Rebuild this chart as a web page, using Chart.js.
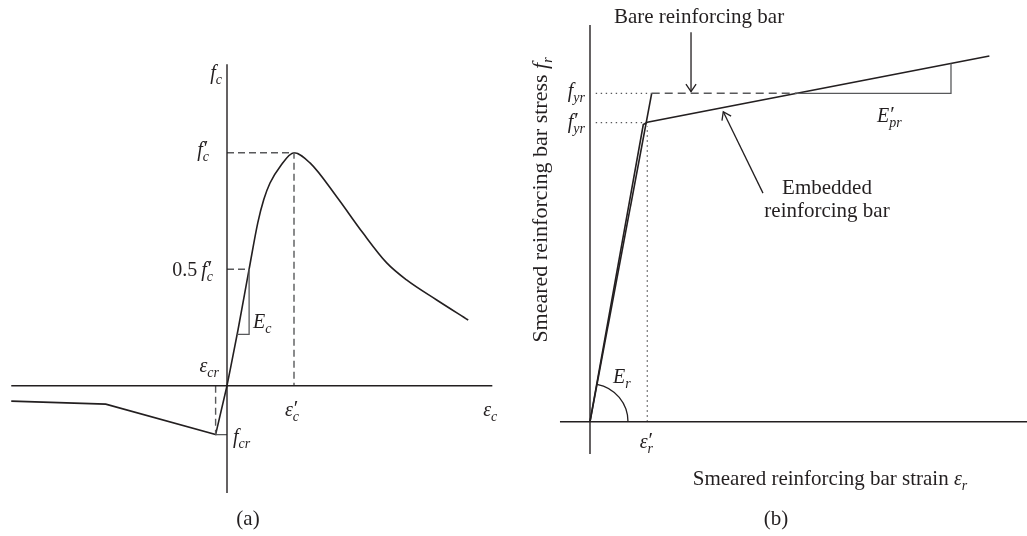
<!DOCTYPE html>
<html>
<head>
<meta charset="utf-8">
<script src="https://cdn.jsdelivr.net/npm/chart.js@4.4.1/dist/chart.umd.min.js"></script>
<style>
  body { margin: 0; background: #fff; }
  #wrap { position: relative; width: 1027px; height: 536px; }
  canvas { position: absolute; top: 0; }
  #chartA { left: 0; }
  #chartB { left: 520px; }
</style>
</head>
<body>
<div id="wrap">
  <canvas id="chartA" width="520" height="536"></canvas>
  <canvas id="chartB" width="507" height="536"></canvas>
</div>
<script>
// (a) concrete: strain in units of eps'_c, stress in units of f'_c
const tensionStrain = [-3.22, -1.81, -0.17, 0];
const tensionStress = [-0.066, -0.079, -0.21, 0];
const compStrain = [0, 0.164, 0.33, 0.46, 0.55, 0.642, 0.791, 1, 1.239, 1.637, 2.03, 2.384, 2.68, 3.13, 3.6];
const compStress = [0, 0.239, 0.5, 0.70, 0.80, 0.870, 0.940, 1, 0.956, 0.811, 0.655, 0.527, 0.454, 0.368, 0.282];
const peakStrain = 1, peakStress = 1;
const halfStrain = 0.33, halfStress = 0.5;
const crackStrain = -0.17, crackStress = -0.21;
const ecBaseStress = 0.22;
const axisAx = [-3.22, 3.96], axisAy = [-0.46, 1.38];

// (b) steel: strain in units of eps'_r, stress in units of f_yr
const bareStrain = [0, 1.077, 6.30];
const bareStress = [0, 1, 1];
const embStrain = [0, 0.93, 1.0, 6.97];
const embStress = [0, 0.905, 0.912, 1.1136];
const fyr = 1, fyrEmb = 0.911, epsYield = 1;
const slopeStrain = 6.30;
const bareArrowX = [1.763, 1.763], bareArrowY = [1.186, 1.005];
const embArrowX = [3.019, 2.326], embArrowY = [0.696, 0.944];
const axisBx = [-0.524, 7.8], axisBy = [-0.098, 1.208];

const ink = '#231f20';
const grey = '#58595b';
const SERIF = '"Liberation Serif", "DejaVu Serif", serif';
const F = {
  text: '21px ' + SERIF,
  label: '22px ' + SERIF,
  it: 'italic 20px ' + SERIF,
  itBig: 'italic 22px ' + SERIF,
  sub: 'italic 14px ' + SERIF,
  up: '20px ' + SERIF,
  prime: '21px ' + SERIF
};

const pts = (xs, ys) => xs.map((x, i) => ({ x: x, y: ys[i] }));

function lineSet(xs, ys, style) {
  return Object.assign({
    data: pts(xs, ys), showLine: true, pointRadius: 0, fill: false,
    borderColor: ink, borderWidth: 1.6, tension: 0
  }, style);
}

// linear lookup along a polyline, by x or by y
function lerpAt(xs, ys, v, byY) {
  const a = byY ? ys : xs, b = byY ? xs : ys;
  for (let i = 1; i < a.length; i++) {
    if ((v - a[i - 1]) * (v - a[i]) <= 0) {
      const t = (v - a[i - 1]) / (a[i] - a[i - 1]);
      return b[i - 1] + t * (b[i] - b[i - 1]);
    }
  }
  return b[b.length - 1];
}

function sym(base, sub, prime, pre) {
  const r = [];
  if (pre) r.push({ t: pre, font: F.up });
  r.push({ t: base, font: F.it });
  if (prime) r.push({ t: '\u2032', font: F.prime, dx: 1, dy: -1, adv: 0 });
  if (sub) r.push({ t: sub, font: F.sub, dy: 5 });
  return r;
}

function drawRuns(ctx, x, y, runs, align) {
  let total = 0;
  runs.forEach(r => { ctx.font = r.font; r.w = ctx.measureText(r.t).width; total += (r.adv ?? r.w); });
  let cx = align === 'right' ? x - total : align === 'center' ? x - total / 2 : x;
  ctx.textAlign = 'left';
  ctx.textBaseline = 'alphabetic';
  ctx.fillStyle = ink;
  runs.forEach(r => {
    ctx.font = r.font;
    ctx.fillText(r.t, cx + (r.dx || 0), y + (r.dy || 0));
    cx += (r.adv ?? r.w);
  });
}

function arrowHead(ctx, x0, y0, x1, y1) {
  const a = Math.atan2(y1 - y0, x1 - x0), len = 9, spread = 0.6;
  ctx.beginPath();
  ctx.moveTo(x1 - len * Math.cos(a - spread), y1 - len * Math.sin(a - spread));
  ctx.lineTo(x1, y1);
  ctx.lineTo(x1 - len * Math.cos(a + spread), y1 - len * Math.sin(a + spread));
  ctx.stroke();
}

// labels anchored to data points, with pixel nudges
function labelPlugin(labels, extra) {
  return {
    id: 'labels',
    afterDatasetsDraw(chart) {
      const ctx = chart.ctx, sx = chart.scales.x, sy = chart.scales.y;
      ctx.save();
      labels.forEach(l => {
        const X = l.at ? sx.getPixelForValue(l.at[0]) : 0;
        const Y = l.at ? sy.getPixelForValue(l.at[1]) : 0;
        drawRuns(ctx, X + l.dx, Y + l.dy, l.runs, l.align);
      });
      if (extra) extra(chart, ctx, sx, sy);
      ctx.restore();
    }
  };
}

function baseOptions(xr, yr) {
  return {
    responsive: false,
    animation: false,
    layout: { padding: 0 },
    plugins: { legend: { display: false }, tooltip: { enabled: false } },
    scales: {
      x: { type: 'linear', min: xr[0], max: xr[1], display: false },
      y: { type: 'linear', min: yr[0], max: yr[1], display: false }
    }
  };
}

// ---------- (a) ----------
const ecFoot = lerpAt(compStrain, compStress, ecBaseStress, true);

const dashA = { borderColor: grey, borderWidth: 1.4, borderDash: [7, 4] };
const chartA = new Chart(document.getElementById('chartA'), {
  type: 'scatter',
  data: {
    datasets: [
      lineSet(axisAx, [0, 0], { borderWidth: 1.4 }),
      lineSet([0, 0], axisAy, { borderWidth: 1.4 }),
      lineSet([0, peakStrain, peakStrain], [peakStress, peakStress, 0], dashA),
      lineSet([0, halfStrain], [halfStress, halfStress], dashA),
      lineSet([crackStrain, crackStrain], [0, crackStress], dashA),
      lineSet([crackStrain, 0], [crackStress, crackStress], { borderColor: grey, borderWidth: 1.3 }),
      lineSet([ecFoot, halfStrain, halfStrain], [ecBaseStress, ecBaseStress, halfStress], { borderColor: grey, borderWidth: 1.3 }),
      lineSet(tensionStrain, tensionStress),
      lineSet(compStrain, compStress, { cubicInterpolationMode: 'monotone' })
    ]
  },
  options: baseOptions([-3.3881, 4.3731], [-0.64506, 1.65536]),
  plugins: [labelPlugin([
    { at: [0, axisAy[1]], dx: -5, dy: 15, align: 'right', runs: sym('f', 'c') },
    { at: [0, peakStress], dx: -18, dy: 3, align: 'right', runs: sym('f', 'c', true) },
    { at: [0, halfStress], dx: -14, dy: 7, align: 'right', runs: sym('f', 'c', true, '0.5\u2009') },
    { at: [halfStrain, ecBaseStress], dx: 4, dy: -6, align: 'left', runs: sym('E', 'c') },
    { at: [0, 0], dx: -8, dy: -14, align: 'right', runs: sym('\u03b5', 'cr') },
    { at: [0, crackStress], dx: 6, dy: 8, align: 'left', runs: sym('f', 'cr') },
    { at: [peakStrain, 0], dx: -2, dy: 30, align: 'center', runs: sym('\u03b5', 'c', true) },
    { at: [axisAx[1], 0], dx: 5, dy: 30, align: 'right', runs: sym('\u03b5', 'c') }
  ], (chart, ctx) => {
    drawRuns(ctx, 248, 525, [{ t: '(a)', font: F.text }], 'center');
  })]
});

// ---------- (b) ----------
const crossStrain = lerpAt(embStrain.slice(2), embStress.slice(2), fyr, true);
const slopeTop = lerpAt(embStrain, embStress, slopeStrain);
const dotB = { borderColor: grey, borderWidth: 1.3, borderDash: [1.4, 3.6] };

const chartB = new Chart(document.getElementById('chartB'), {
  type: 'scatter',
  data: {
    datasets: [
      lineSet(axisBx, [0, 0], { borderWidth: 1.4 }),
      lineSet([0, 0], axisBy, { borderWidth: 1.4 }),
      lineSet([0.1, bareStrain[1]], [fyr, fyr], dotB),
      lineSet([0.1, embStrain[1]], [fyrEmb, fyrEmb], dotB),
      lineSet([epsYield, epsYield], [0, 0.9], dotB),
      lineSet([bareStrain[1], crossStrain], [fyr, fyr], { borderColor: grey, borderWidth: 1.4, borderDash: [8, 5] }),
      lineSet([crossStrain, slopeStrain, slopeStrain], [fyr, fyr, slopeTop], { borderColor: grey, borderWidth: 1.3 }),
      lineSet(bareStrain.slice(0, 2), bareStress.slice(0, 2)),
      lineSet(embStrain, embStress),
      lineSet(bareArrowX, bareArrowY, { borderWidth: 1.3 }),
      lineSet(embArrowX, embArrowY, { borderWidth: 1.3 })
    ]
  },
  options: baseOptions([-1.2216, 7.6265], [-0.34805, 1.28410]),
  plugins: [labelPlugin([
    { at: [0, fyr], dx: -5, dy: 4, align: 'right', runs: sym('f', 'yr') },
    { at: [0, fyrEmb], dx: -5, dy: 5, align: 'right', runs: sym('f', 'yr', true) },
    { at: [slopeStrain, fyr], dx: -74, dy: 29, align: 'left', runs: sym('E', 'pr', true) },
    { at: [0, 0], dx: 23, dy: -39, align: 'left', runs: sym('E', 'r') },
    { at: [epsYield, 0], dx: -1, dy: 26, align: 'center', runs: sym('\u03b5', 'r', true) },
    { at: [embArrowX[0], embArrowY[0]], dx: 64, dy: 1, align: 'center', runs: [{ t: 'Embedded', font: F.text }] },
    { at: [embArrowX[0], embArrowY[0]], dx: 64, dy: 24, align: 'center', runs: [{ t: 'reinforcing bar', font: F.text }] },
    { at: [bareArrowX[0], bareArrowY[0]], dx: 8, dy: -9.5, align: 'center', runs: [{ t: 'Bare reinforcing bar', font: F.text }] }
  ], (chart, ctx, sx, sy) => {
    ctx.strokeStyle = ink;
    ctx.lineWidth = 1.3;
    const p = (x, y) => [sx.getPixelForValue(x), sy.getPixelForValue(y)];
    // arrow heads
    const b0 = p(bareArrowX[0], bareArrowY[0]), b1 = p(bareArrowX[1], bareArrowY[1]);
    arrowHead(ctx, b0[0], b0[1], b1[0], b1[1]);
    const e0 = p(embArrowX[0], embArrowY[0]), e1 = p(embArrowX[1], embArrowY[1]);
    arrowHead(ctx, e0[0], e0[1], e1[0], e1[1]);
    // E_r angle arc
    const o = p(0, 0), y1 = p(bareStrain[1], bareStress[1]);
    ctx.beginPath();
    ctx.arc(o[0], o[1], 38, Math.atan2(y1[1] - o[1], y1[0] - o[0]), 0, false);
    ctx.stroke();
    // axis titles and caption
    drawRuns(ctx, 310, 485, [{ t: 'Smeared reinforcing bar strain ', font: F.text }].concat(sym('\u03b5', 'r')), 'center');
    drawRuns(ctx, 256, 525, [{ t: '(b)', font: F.text }], 'center');
    ctx.save();
    ctx.translate(27, 200);
    ctx.rotate(-Math.PI / 2);
    drawRuns(ctx, 0, 0, [{ t: 'Smeared reinforcing bar stress ', font: F.label }, { t: 'f', font: F.itBig }, { t: 'r', font: F.sub, dy: 5 }], 'center');
    ctx.restore();
  })]
});
</script>
</body>
</html>
